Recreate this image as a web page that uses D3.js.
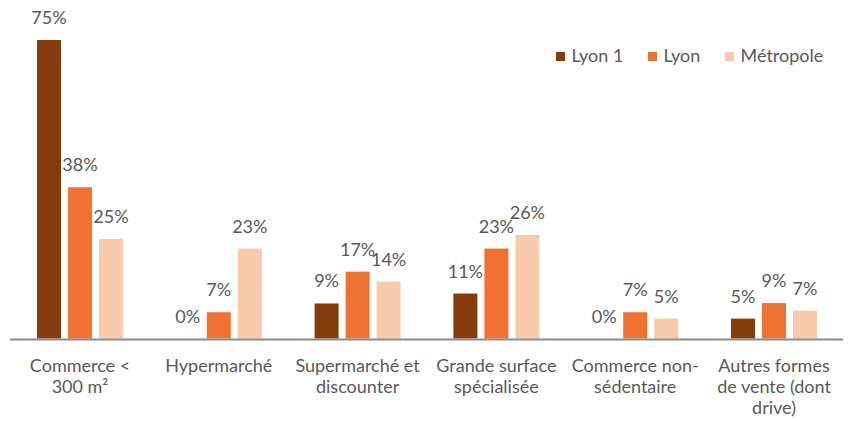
<!DOCTYPE html>
<html><head><meta charset="utf-8">
<script src="https://cdn.jsdelivr.net/npm/d3@7"></script>
<style>body{margin:0;background:#fff;}svg{display:block;font-family:Lato,'Open Sans',sans-serif;}</style>
</head><body><svg id="c" width="848" height="421"></svg>
<script>
const categories = ["Commerce < 300 m²","Hypermarché","Supermarché et discounter","Grande surface spécialisée","Commerce non-sédentaire","Autres formes de vente (dont drive)"];
const categoryLines = [["Commerce <","300 m²"],["Hypermarché"],["Supermarché et","discounter"],["Grande surface","spécialisée"],["Commerce non-","sédentaire"],["Autres formes","de vente (dont","drive)"]];
const seriesNames = ["Lyon 1","Lyon","Métropole"];
const lyon1 = [75, 0, 8.8, 11.3, 0, 5];
const lyon = [38, 6.6, 16.8, 22.6, 6.6, 8.9];
const metropole = [25, 22.6, 14.3, 26, 5, 7];
const colors = ["#843C0C","#F07232","#F8CBAD"];

const seriesValues = [lyon1, lyon, metropole];
const svg = d3.select("#c");
const x0 = d3.scaleBand().domain(categories).range([10.6, 843.4]).padding(0);
const groupW = 86;
const x1 = d3.scaleBand().domain(seriesNames).range([0, groupW]).paddingInner(0.226).paddingOuter(0);
const y = d3.scaleLinear().domain([0, 75]).range([338.5, 40]);
const fmt = d3.format(".0%");

const g = svg.selectAll("g.cat").data(categories).join("g").attr("class","cat")
  .attr("transform", d => `translate(${x0(d) + (x0.bandwidth()-groupW)/2},0)`);

g.each(function(cat, ci){
  const gg = d3.select(this);
  const data = seriesNames.map((s, si) => ({s, si, v: seriesValues[si][ci]}));
  gg.selectAll("rect").data(data).join("rect")
    .attr("x", d => x1(d.s)).attr("width", x1.bandwidth())
    .attr("y", d => y(d.v)).attr("height", d => y(0) - y(d.v))
    .attr("fill", d => colors[d.si]);
  gg.selectAll("text").data(data).join("text")
    .attr("x", d => x1(d.s) + x1.bandwidth()/2)
    .attr("y", d => y(d.v) - 16)
    .attr("text-anchor","middle").attr("font-size", 18).attr("fill","#595959")
    .text(d => fmt(d.v/100));
});

// axis line
svg.append("line").attr("x1", 10).attr("x2", 843).attr("y1", 339.5).attr("y2", 339.5)
  .attr("stroke", "#8c8c8c").attr("stroke-width", 2);

// category labels
categories.forEach((c, i) => {
  const t = svg.append("text").attr("text-anchor","middle").attr("font-size", 18).attr("fill","#595959")
    .attr("x", x0(c) + x0.bandwidth()/2);
  categoryLines[i].forEach((ln, li) => {
    t.append("tspan").attr("x", x0(c) + x0.bandwidth()/2).attr("y", 372 + li*21).text(ln);
  });
});

// legend
const legX = [556, 648, 725];
const leg = svg.selectAll("g.leg").data(seriesNames).join("g").attr("class","leg")
  .attr("transform", (d,i) => `translate(${legX[i]},52)`);
leg.append("rect").attr("width", 9).attr("height", 9).attr("fill", (d,i) => colors[i]);
leg.append("text").attr("x", 15.5).attr("y", 9.7).attr("font-size", 18).attr("fill","#595959").text(d => d);
</script></body></html>
